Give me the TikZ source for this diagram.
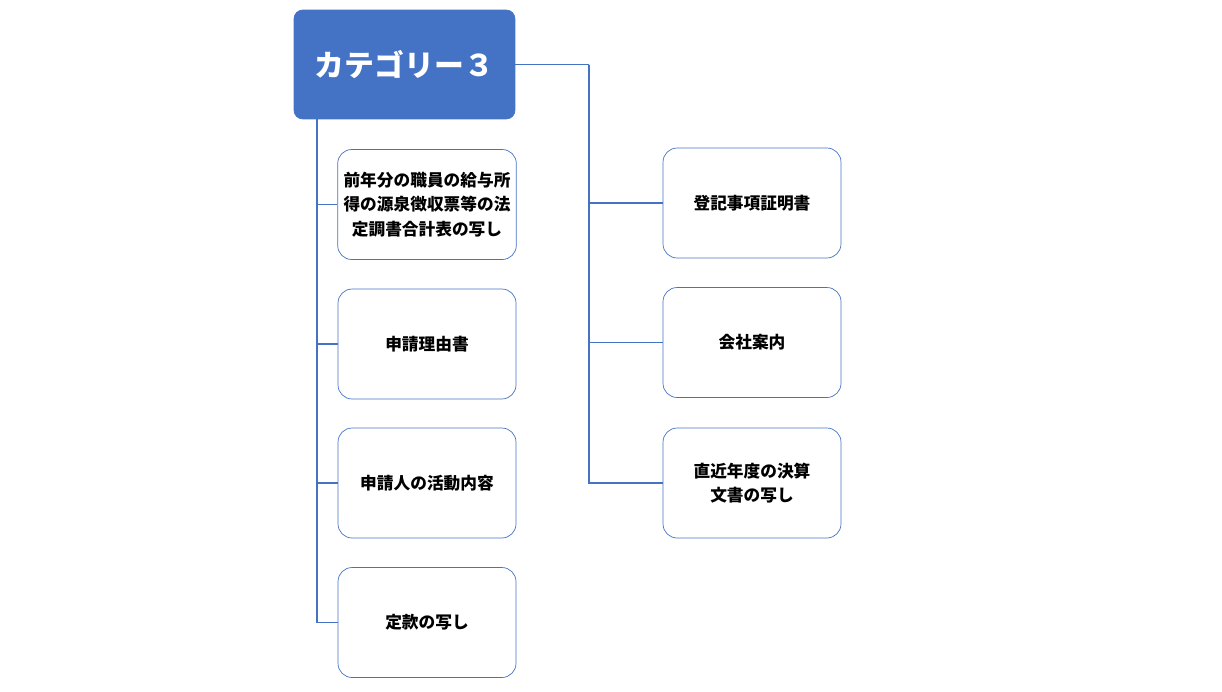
\documentclass[tikz,border=0pt]{standalone}
\usepackage{fontspec}
\newfontfamily\cjk{Noto Sans CJK JP}
\usetikzlibrary{positioning}
\definecolor{catblue}{HTML}{4472C4}
\tikzset{
  head/.style={draw=catblue, fill=catblue, rounded corners=5pt, minimum width=4.42cm, minimum height=2.18cm, text=white, font=\cjk\bfseries\fontsize{17}{20}\selectfont},
  item/.style={draw=catblue, rounded corners=8pt, minimum width=3.56cm, minimum height=2.2cm, align=center, font=\cjk\bfseries\fontsize{9.5}{14}\selectfont},
  link/.style={draw=catblue, line width=0.6pt}
}
\begin{document}
\begin{tikzpicture}[x=0.02cm, y=-0.02cm]
\useasboundingbox (0,0) rectangle (1222,691);
\node[head] (cat) at (404.5,64.5) {カテゴリー３};

\node[item] (l1) at (427,204.5) {前年分の職員の給与所\\得の源泉徴収票等の法\\定調書合計表の写し};
\node[item] (l2) at (427,344) {申請理由書};
\node[item] (l3) at (427,483) {申請人の活動内容};
\node[item] (l4) at (427,622.5) {定款の写し};

\node[item] (r1) at (752,203) {登記事項証明書};
\node[item] (r2) at (752,342.5) {会社案内};
\node[item] (r3) at (752,483) {直近年度の決算\\文書の写し};

% left trunk
\coordinate (lt) at (317,119);
\foreach \n in {l1,l2,l3,l4}
  \draw[link] (lt) |- (\n.west);
% right trunk
\coordinate (rt) at (589,64.5);
\draw[link] (cat.east) -- (rt);
\foreach \n in {r1,r2,r3}
  \draw[link] (rt) |- (\n.west);
\end{tikzpicture}
\end{document}
